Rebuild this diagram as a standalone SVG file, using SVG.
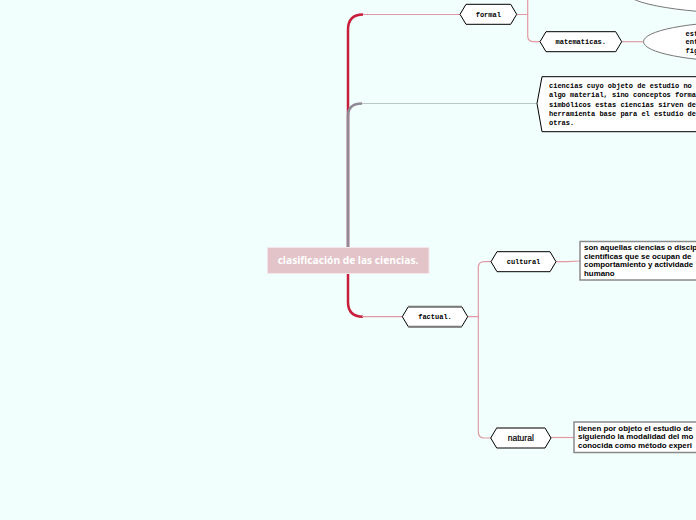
<svg xmlns="http://www.w3.org/2000/svg" width="696" height="520" viewBox="0 0 696 520">
<style>
.hex{fill:#fff;stroke:#000;stroke-width:1}
.mono{font-family:"Liberation Mono","DejaVu Sans Mono",monospace;font-weight:bold;font-size:7px;fill:#000}
.sans{font-family:"Liberation Sans",Arial,sans-serif;font-weight:bold;font-size:7.9px;fill:#000}
.thin{fill:none;stroke:#E49AA3;stroke-width:1.2}
.gthin{fill:none;stroke:#BCC6C6;stroke-width:1}
.trunk{fill:none;stroke:#C81E3C;stroke-width:2.5}
.gtrunk{fill:none;stroke:#908A96;stroke-width:2.5}
.box{fill:#fff;stroke:#8A8A8A;stroke-width:1.5}
.gedge{stroke:#7A7A7A;stroke-width:2}
</style>
<rect x="0" y="0" width="696" height="520" fill="#F1FFFD"/>

<ellipse cx="762" cy="-8" rx="136" ry="22" fill="#fff" stroke="#777" stroke-width="1"/>

<g id="connectors">
  <path class="thin" d="M360,14.5 H460"/>
  <path class="trunk" d="M348,248 V30 Q348,14.5 363,14.5"/>
  <path class="trunk" d="M348,274 V302 Q348,316.7 363,316.7"/>
  <path class="thin" d="M362,316.7 H402"/>
  <path class="gthin" d="M362,103.5 H537"/>
  <path class="gtrunk" d="M348,247 V116 Q348,103.5 362,103.5"/>
  <path class="thin" d="M517,14.5 H527.7 M527.7,0 V36 Q527.7,41.7 534,41.7 H540"/>
  <path class="thin" d="M621.7,41.7 H643.5"/>
  <path class="thin" d="M467.7,316.7 H478.3 M491,261.7 H484.3 Q478.3,261.7 478.3,267.7 V432 Q478.3,438 484.3,438 H491"/>
  <path class="thin" d="M556,261.7 H567 L580,261"/>
  <path class="thin" d="M551,437.5 H574"/>
</g>

<g id="root">
  <rect x="267.5" y="247.5" width="161.5" height="26" fill="#E3C4C8" stroke="#F4E6E8" stroke-width="1"/>
  <text x="348" y="264.3" text-anchor="middle" font-family="'Open Sans','Liberation Sans',sans-serif" font-weight="bold" font-size="10.2" fill="#fff">clasificación de las ciencias.</text>
</g>

<g id="formal">
  <polygon class="hex" points="460,14.3 466,4.3 510.7,4.3 516.7,14.3 510.7,24.3 466,24.3"/>
  <text class="mono" x="488.3" y="16.8" text-anchor="middle">formal</text>
</g>

<g id="matematicas">
  <polygon class="hex" points="540,41.7 546,31.7 615.7,31.7 621.7,41.7 615.7,51.7 546,51.7"/>
  <text class="mono" x="580.8" y="44.2" text-anchor="middle">matematicas.</text>
</g>

<g id="matematicas-desc">
  <ellipse cx="746" cy="41.7" rx="102.5" ry="20" fill="#fff" stroke="#777" stroke-width="1"/>
  <text class="mono" x="685.5" y="35.5">est</text>
  <text class="mono" x="685.5" y="44">ent</text>
  <text class="mono" x="685.5" y="52.5">fig</text>
</g>

<g id="formal-desc">
  <polygon class="hex" points="537,103.5 542,76.7 700,76.7 700,131.7 542,131.7"/>
  <text class="mono" x="549" y="88">ciencias cuyo objeto de estudio no</text>
  <text class="mono" x="549" y="97.3">algo material, sino conceptos forma</text>
  <text class="mono" x="549" y="106.6">simbólicos estas ciencias sirven de</text>
  <text class="mono" x="549" y="115.9">herramienta base para el estudio de</text>
  <text class="mono" x="549" y="125.2">otras.</text>
</g>

<g id="factual">
  <polygon class="hex" points="402.3,316.7 408.3,306.7 461.7,306.7 467.7,316.7 461.7,326.7 408.3,326.7"/>
  <line class="gedge" x1="408.3" y1="306.7" x2="461.7" y2="306.7"/>
  <line class="gedge" x1="408.3" y1="326.7" x2="461.7" y2="326.7"/>
  <text class="mono" x="435" y="319.2" text-anchor="middle">factual.</text>
</g>

<g id="cultural">
  <polygon class="hex" points="491,261.7 497,251.7 550,251.7 556,261.7 550,271.7 497,271.7"/>
  <text class="mono" x="523.5" y="264.2" text-anchor="middle">cultural</text>
</g>

<g id="cultural-desc">
  <rect class="box" x="580" y="241.5" width="130" height="38.5"/>
  <text class="sans" x="584" y="250">son aquellas ciencias o discip</text>
  <text class="sans" x="584" y="258.5">científicas que se ocupan de</text>
  <text class="sans" x="584" y="267">comportamiento y actividade</text>
  <text class="sans" x="584" y="275.5">humano</text>
</g>

<g id="natural">
  <polygon class="hex" points="490.7,438 496.7,428 545,428 551,438 545,448 496.7,448"/>
  <line class="gedge" x1="496.7" y1="428" x2="545" y2="428"/>
  <text x="520.8" y="440.8" text-anchor="middle" font-family="'Liberation Sans',Arial,sans-serif" font-size="8.5" fill="#000" stroke="#000" stroke-width="0.2">natural</text>
</g>

<g id="natural-desc">
  <rect class="box" x="574" y="422" width="130" height="30.5"/>
  <text class="sans" x="578" y="431">tienen por objeto el estudio de</text>
  <text class="sans" x="578" y="439.3">siguiendo la modalidad del mo</text>
  <text class="sans" x="578" y="447.6">conocida como método experi</text>
</g>
</svg>
